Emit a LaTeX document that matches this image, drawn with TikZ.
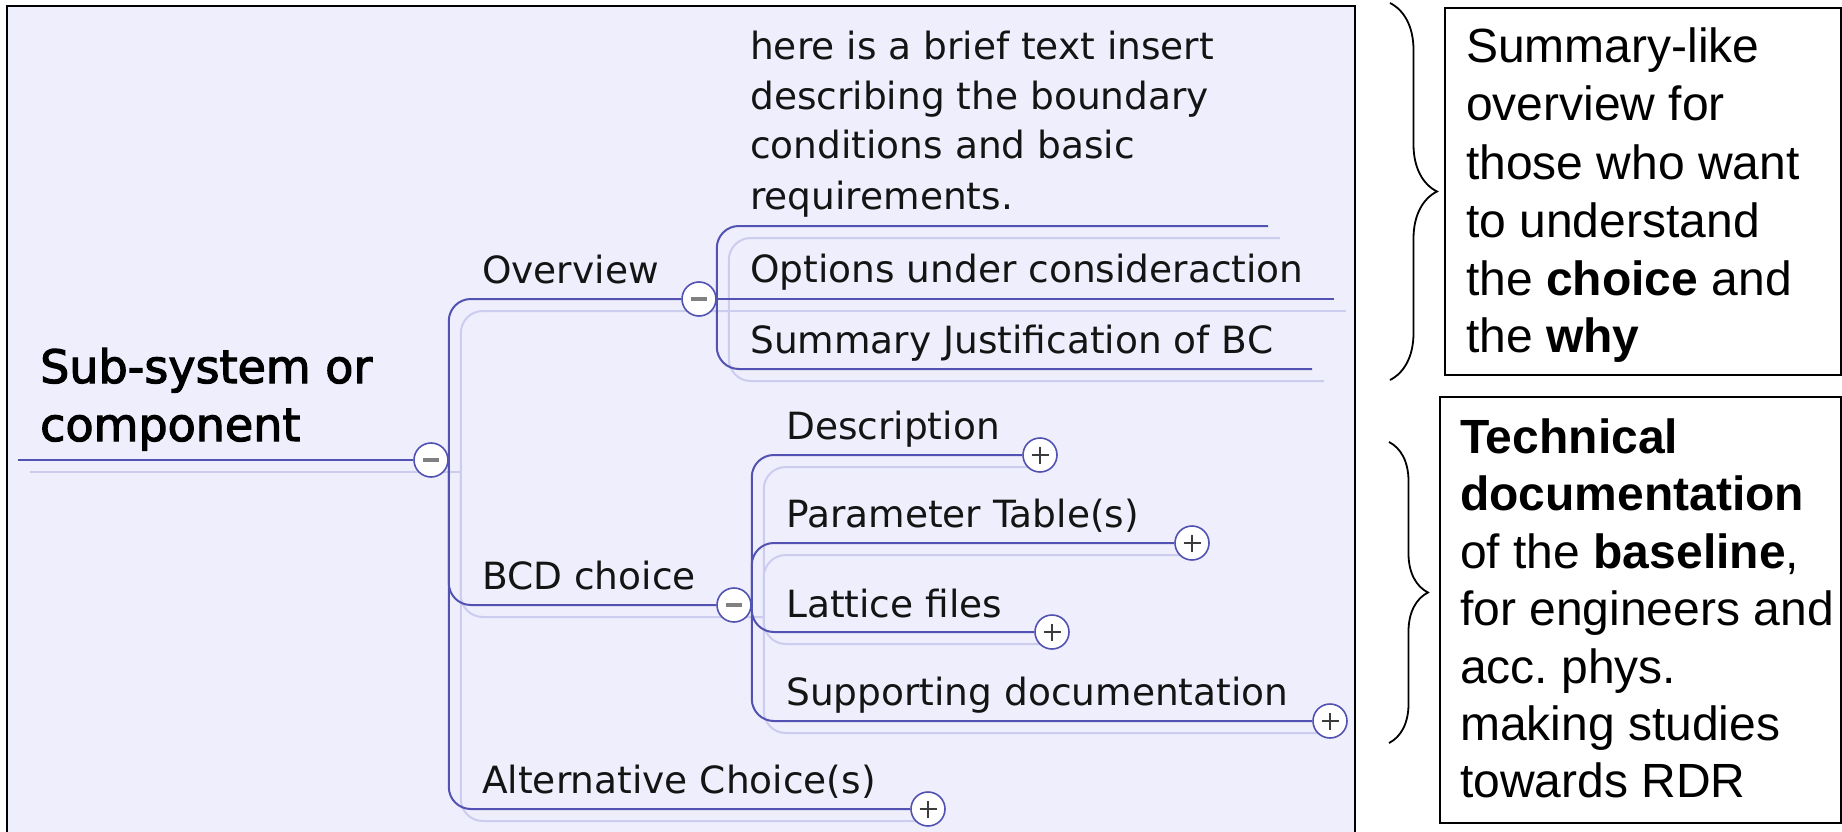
\documentclass[tikz,border=0pt]{standalone}
\usepackage{fontspec}
\setmainfont{DejaVu Sans}
\newfontfamily\mmfont{DejaVu Sans}
\newfontfamily\rootfont[FakeBold=2.5]{DejaVu Sans}
\newfontfamily\arialfont{Liberation Sans}
\usetikzlibrary{decorations.pathreplacing}
\definecolor{panelbg}{RGB}{238,238,252}
\definecolor{branch}{RGB}{82,82,178}
\definecolor{shadowline}{RGB}{204,204,238}
\definecolor{minusgray}{RGB}{128,128,128}
\definecolor{plusgray}{RGB}{60,60,60}
\definecolor{txt}{RGB}{20,20,20}
\pgfdeclarelayer{bg}
\pgfsetlayers{bg,main}
\frenchspacing
\begin{document}
\begin{tikzpicture}[x=1pt,y=-1pt,
  lbl/.style={anchor=base west, inner sep=0, text=txt, font=\mmfont\fontsize{37.5}{44}\selectfont},
  rootlbl/.style={anchor=base west, inner sep=0, text=black, font=\rootfont\fontsize{46}{56}\selectfont},
  note/.style={anchor=base west, inner sep=0, text=black, font=\arialfont\fontsize{48}{58}\selectfont},
  br/.style={draw=branch, line width=2, rounded corners=22},
  sh/.style={draw=shadowline, line width=2, rounded corners=22, transform canvas={xshift=12pt, yshift=-12pt}},
  knob/.style={circle, draw=branch, line width=1.6, fill=white, minimum size=34, inner sep=0},
  minusknob/.style={knob, path picture={\draw[minusgray, line width=3.5] ([xshift=-8pt]path picture bounding box.center) -- ([xshift=8pt]path picture bounding box.center);}},
  plusknob/.style={knob, path picture={\draw[plusgray, line width=1.8] ([xshift=-8.5pt]path picture bounding box.center) -- ([xshift=8.5pt]path picture bounding box.center) ([yshift=-8.5pt]path picture bounding box.center) -- ([yshift=8.5pt]path picture bounding box.center);}},
  notebox/.style={draw=black, line width=2, anchor=north west, inner sep=0},
  bracestyle/.style={draw=black, line width=1.8, decorate, decoration={brace, amplitude=#1}}
]
\useasboundingbox (0,0) rectangle (1842,832);

% knobs
\node[minusknob] (rootk) at (431,460) {};
\node[minusknob] (ovk) at (699,299) {};
\node[minusknob] (bcdk) at (734,605) {};
\node[plusknob] (altk) at (928,809) {};
\node[plusknob] (desck) at (1040,455) {};
\node[plusknob] (park) at (1192,543) {};
\node[plusknob] (latk) at (1052,632) {};
\node[plusknob] (supk) at (1330,721) {};

\coordinate (rootstart) at (18,460);
\coordinate (insEnd) at (1268,226);
\coordinate (optEnd) at (1334,299);
\coordinate (sumEnd) at (1312,369);

% labels
\node[rootlbl] (root1) at (40,383) {Sub-system or};
\node[rootlbl] (root2) at (40,441) {component};
\node[lbl] (ov) at (482,283) {Overview};
\node[lbl] (bcd) at (482,589) {BCD choice};
\node[lbl] (alt) at (482,793) {Alternative Choice(s)};
\node[lbl] (ins1) at (750,60) {here is a brief text insert};
\node[lbl] (ins2) at (750,110) {describing the boundary};
\node[lbl] (ins3) at (750,159) {conditions and basic};
\node[lbl] (ins4) at (750,209) {requirements.};
\node[lbl] (opt) at (750,282) {Options under consideraction};
\node[lbl] (sumj) at (750,353) {Summary Justification of BC};
\node[lbl] (desc) at (786,439) {Description};
\node[lbl] (par) at (786,527) {Parameter Table(s)};
\node[lbl] (lat) at (786,617) {Lattice files};
\node[lbl] (sup) at (786,705) {Supporting documentation};

\begin{pgfonlayer}{bg}
  \fill[panelbg] (7,6) rectangle (1355,836);
  \draw[black, line width=2.5] (7,836) -- (7,6) -- (1355,6) -- (1355,836);
  % shadow lines
  \draw[sh] (rootstart) -- (rootk.east);
  \draw[sh] (rootk.east) -- (rootk.east |- ovk) -- (ovk.east);
  \draw[sh] (rootk.east) -- (rootk.east |- bcdk) -- (bcdk.east);
  \draw[sh] (rootk.east) -- (rootk.east |- altk) -- (altk.west);
  \draw[sh] (ovk.east) -- (ovk.east |- insEnd) -- (insEnd);
  \draw[sh] (ovk.east) -- (optEnd);
  \draw[sh] (ovk.east) -- (ovk.east |- sumEnd) -- (sumEnd);
  \draw[sh] (bcdk.east) -- (bcdk.east |- desck) -- (desck.west);
  \draw[sh] (bcdk.east) -- (bcdk.east |- park) -- (park.west);
  \draw[sh] (bcdk.east) -- (bcdk.east |- latk) -- (latk.west);
  \draw[sh] (bcdk.east) -- (bcdk.east |- supk) -- (supk.west);
  % branch lines
  \draw[br] (rootstart) -- (rootk.west);
  \draw[br] (rootk.east) -- (rootk.east |- ovk) -- (ovk.west);
  \draw[br] (rootk.east) -- (rootk.east |- bcdk) -- (bcdk.west);
  \draw[br] (rootk.east) -- (rootk.east |- altk) -- (altk.west);
  \draw[br] (ovk.east) -- (ovk.east |- insEnd) -- (insEnd);
  \draw[br] (ovk.east) -- (optEnd);
  \draw[br] (ovk.east) -- (ovk.east |- sumEnd) -- (sumEnd);
  \draw[br] (bcdk.east) -- (bcdk.east |- desck) -- (desck.west);
  \draw[br] (bcdk.east) -- (bcdk.east |- park) -- (park.west);
  \draw[br] (bcdk.east) -- (bcdk.east |- latk) -- (latk.west);
  \draw[br] (bcdk.east) -- (bcdk.east |- supk) -- (supk.west);
\end{pgfonlayer}

% note boxes
\node[notebox, minimum width=396, minimum height=367] (box1) at (1444,7) {};
\node[notebox, minimum width=401, minimum height=426] (box2) at (1439,396) {};

\node[note] (n1a) at (1466,63) {Summary-like};
\node[note] (n1b) at (1466,121) {overview for};
\node[note] (n1c) at (1466,179) {those who want};
\node[note] (n1d) at (1466,237) {to understand};
\node[note] (n1e) at (1466,295) {the \textbf{choice} and};
\node[note] (n1f) at (1466,352) {the \textbf{why}};

\node[note] (n2a) at (1460,453) {\textbf{Technical}};
\node[note] (n2b) at (1460,510) {\textbf{documentation}};
\node[note] (n2c) at (1460,568) {of the \textbf{baseline},};
\node[note] (n2d) at (1460,625) {for engineers and};
\node[note] (n2e) at (1460,683) {acc. phys.};
\node[note] (n2f) at (1460,740) {making studies};
\node[note] (n2g) at (1460,797) {towards RDR};

% braces
\coordinate (br1top) at (1390,3);
\coordinate (br1bot) at (1390,380);
\coordinate (br2top) at (1389,442);
\coordinate (br2bot) at (1389,743);
\draw[bracestyle=47] (br1top) -- (br1bot);
\draw[bracestyle=39] (br2top) -- (br2bot);
\end{tikzpicture}
\end{document}
